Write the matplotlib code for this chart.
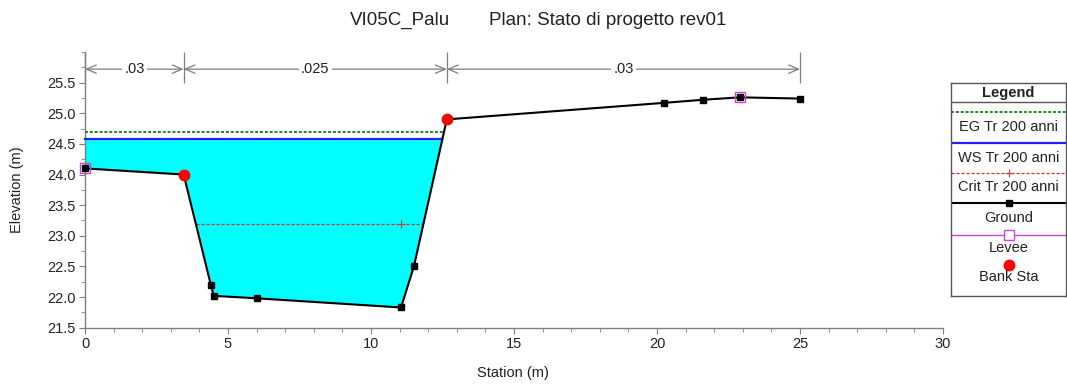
import numpy as np
import matplotlib
matplotlib.use("Agg")
import matplotlib.pyplot as plt
from matplotlib.ticker import MultipleLocator, FormatStrFormatter

plt.rcParams['font.family'] = ['Liberation Sans', 'DejaVu Sans']

# ---------------- data ----------------
station = [0.0, 3.45, 4.4, 4.5, 6.0, 11.05, 11.5, 12.65, 20.25, 21.6, 22.9, 25.0]
elev = [24.1, 24.0, 22.2, 22.02, 21.98, 21.83, 22.5, 24.9, 25.17, 25.22, 25.26, 25.24]
levee_station = [0.0, 22.9]
levee_elev = [24.1, 25.26]
bank_station = [3.45, 12.65]
bank_elev = [24.0, 24.9]
ws_elev = 24.58
eg_elev = 24.69
crit_elev = 23.2
crit_marker_station = [11.05]
n_breaks = [0.0, 3.45, 12.65, 25.0]
n_values = ['.03', '.025', '.03']

st = np.array(station)
el = np.array(elev)


def crossings(level):
    """stations where the ground crosses a horizontal level"""
    xs = []
    for i in range(len(st) - 1):
        a, b = el[i] - level, el[i + 1] - level
        if a == 0:
            xs.append(st[i])
        elif a * b < 0:
            xs.append(st[i] + (st[i + 1] - st[i]) * (-a) / (el[i + 1] - el[i]))
    return xs


W, H = 1067, 387
fig = plt.figure(figsize=(W / 100, H / 100), dpi=100)
ax = fig.add_axes([85 / W, 1 - 327.7 / H, (943 - 85) / W, (327.7 - 52) / H])

gray = '#7f7f7f'

# water fill
ax.fill_between(st, el, ws_elev, where=el < ws_elev, interpolate=True,
                color='#00ffff', lw=0, zorder=1)

# water surface lines
right_ws = [x for x in crossings(ws_elev) if x > 5][0]
right_eg = [x for x in crossings(eg_elev) if x > 5][0]
ax.plot([st[0], right_ws], [ws_elev, ws_elev], color='#1f1fff', lw=1.6, zorder=3,
        clip_on=False)
ax.plot([st[0], right_eg], [eg_elev, eg_elev], color='#1a8a1a', lw=1.4,
        ls=(0, (1.5, 1)), zorder=3, clip_on=False)
cx = [x for x in crossings(crit_elev)]
ax.plot([cx[0], cx[-1]], [crit_elev, crit_elev], color='#e03030', lw=0.9,
        ls=(0, (2.5, 1.5)), zorder=3)
ax.plot(crit_marker_station, [crit_elev] * len(crit_marker_station), ls='none',
        marker='+', ms=6, mew=0.8, color='#e03030', zorder=3)

# ground
ax.plot(st, el, color='black', lw=1.5, marker='s', ms=4, zorder=4, clip_on=False)
# levee
ax.plot(levee_station, levee_elev, ls='none', marker='s', ms=7.5, mfc='none',
        mec='#cc44cc', mew=1.0, zorder=5, clip_on=False)
# bank stations
ax.plot(bank_station, bank_elev, ls='none', marker='o', ms=7.5, color='#ff0000',
        zorder=6, clip_on=False)

# n-value annotations
n_y = 25.72
ax.vlines(n_breaks, 25.5, 26.0, color=gray, lw=0.9, zorder=2, clip_on=False)
for i, lab in enumerate(n_values):
    x0, x1 = n_breaks[i], n_breaks[i + 1]
    ax.annotate('', xy=(x0, n_y), xytext=(x1, n_y),
                arrowprops=dict(arrowstyle='<->, head_length=0.7, head_width=0.3',
                                color=gray, lw=0.9, shrinkA=0, shrinkB=0,
                                mutation_scale=10))
    ax.text((x0 + x1) / 2, n_y, lab, ha='center', va='center', fontsize=10.5,
            color='#222222', bbox=dict(boxstyle='square,pad=0.15', fc='white', ec='none'),
            zorder=7)

ax.set_xlim(0, 30)
ax.set_ylim(21.5, 26.0)
ax.xaxis.set_major_locator(MultipleLocator(5))
ax.xaxis.set_minor_locator(MultipleLocator(1))
ax.yaxis.set_major_locator(MultipleLocator(0.5))
ax.yaxis.set_minor_locator(MultipleLocator(0.25))
ax.yaxis.set_major_formatter(FormatStrFormatter('%.1f'))
ax.set_yticks([21.5, 22.0, 22.5, 23.0, 23.5, 24.0, 24.5, 25.0, 25.5])
for s in ['top', 'right']:
    ax.spines[s].set_visible(False)
for s in ['left', 'bottom']:
    ax.spines[s].set_color(gray)
    ax.spines[s].set_linewidth(1.0)
ax.tick_params(which='both', direction='out', color=gray, labelsize=10.5,
               labelcolor='#222222')
ax.tick_params(which='major', length=4, pad=3)
ax.tick_params(which='minor', length=3)

fig.text(513 / W, 1 - 373 / H, 'Station (m)', ha='center', va='center',
         fontsize=10.5, color='#222222')
fig.text(17 / W, 1 - 190 / H, 'Elevation (m)', ha='center', va='center',
         rotation=90, fontsize=10.5, color='#222222')

# title
fig.text(350 / W, 1 - 25 / H, 'VI05C_Palu', ha='left', va='baseline',
         fontsize=13.5, color='#222222')
fig.text(489 / W, 1 - 25 / H, 'Plan: Stato di progetto rev01', ha='left',
         va='baseline', fontsize=13.5, color='#222222')

# legend box
lx0, lx1, ly0, ly1 = 951, 1066, 83, 296
lax = fig.add_axes([lx0 / W, 1 - ly1 / H, (lx1 - lx0) / W, (ly1 - ly0) / H])
lax.set_xlim(0, lx1 - lx0)
lax.set_ylim(ly1 - ly0, 0)
lax.set_xticks([])
lax.set_yticks([])
for s in lax.spines.values():
    s.set_color('#555555')
    s.set_linewidth(1.0)
wid = lx1 - lx0
mid = wid / 2
lax.text(mid, 9.5, 'Legend', ha='center', va='center', fontsize=10.5,
         fontweight='bold', color='#222222')
lax.plot([0, wid], [18.7, 18.7], color='#555555', lw=1.0)

entries = [
    ('EG Tr 200 anni', 29.3, 43.7, dict(color='#1a8a1a', lw=1.4, ls=(0, (1.5, 1)))),
    ('WS Tr 200 anni', 60.3, 75.3, dict(color='#1f1fff', lw=1.6)),
    ('Crit Tr 200 anni', 90.3, 103.7, dict(color='#e03030', lw=0.9, ls=(0, (2.5, 1.5)))),
    ('Ground', 120.3, 135.3, dict(color='black', lw=1.5)),
    ('Levee', 152.0, 164.7, dict(color='#cc44cc', lw=1.0)),
]
for lab, yl, yt, kw in entries:
    lax.plot([0, wid], [yl, yl], **kw)
    lax.text(mid, yt, lab, ha='center', va='center', fontsize=10.5, color='#222222')
lax.plot([mid], [90.3], marker='+', ms=6, mew=0.8, color='#e03030')
lax.plot([mid], [120.3], marker='s', ms=4, color='black')
lax.plot([mid], [152.0], marker='s', ms=7.5, mfc='white', mec='#cc44cc', mew=1.0)
lax.plot([mid], [182.0], marker='o', ms=7.5, color='#ff0000', ls='none')
lax.text(mid, 193.7, 'Bank Sta', ha='center', va='center', fontsize=10.5,
         color='#222222')

fig.savefig('out.png', dpi=100)
